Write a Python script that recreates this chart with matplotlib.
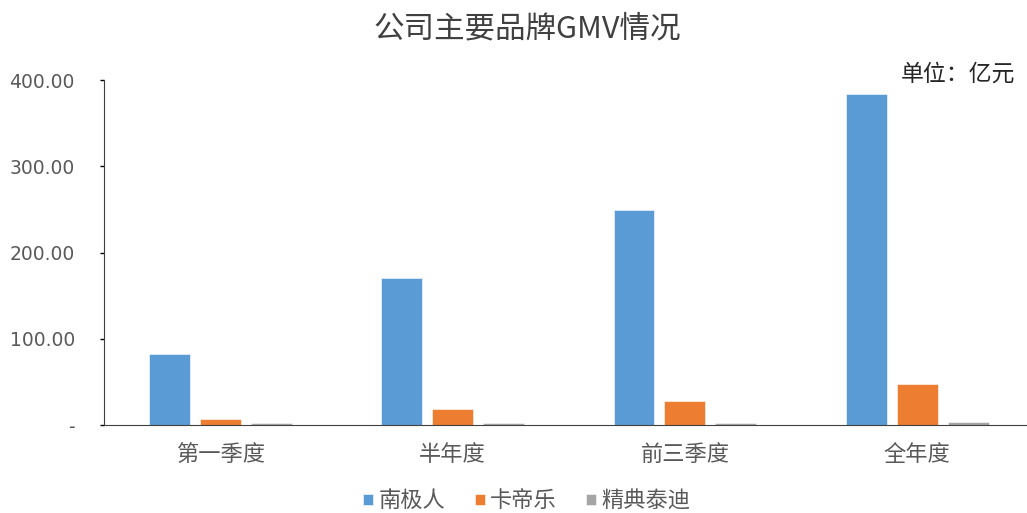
import numpy as np
import matplotlib.pyplot as plt

plt.rcParams['font.family'] = ['Noto Sans CJK SC', 'DejaVu Sans']

categories = ['第一季度', '半年度', '前三季度', '全年度']
series_names = ['南极人', '卡帝乐', '精典泰迪']
nanjiren = [82.6, 170.3, 249.3, 383.8]
kadile = [6.6, 18.3, 28.4, 47.8]
jingdian = [2.3, 2.3, 2.3, 3.5]
colors = ['#5B9BD5', '#ED7D31', '#A5A5A5']
yticks = [0, 100, 200, 300, 400]
ytick_labels = ['-', '100.00', '200.00', '300.00', '400.00']

fig = plt.figure(figsize=(10.27, 5.13), dpi=100)
ax = fig.add_axes([0.1013, 0.1715, 0.905, 0.6725])

x = np.arange(len(categories))
w = 0.176
step = 0.219
for i, (vals, name) in enumerate(zip([nanjiren, kadile, jingdian], series_names)):
    ax.bar(x + (i - 1) * step, vals, w, color=colors[i], label=name,
           edgecolor='white', linewidth=0.4)

ax.set_xlim(-0.5, 3.5)
ax.set_ylim(0, 400)
ax.set_yticks(yticks)
ax.set_yticklabels(ytick_labels, fontsize=13.5, color='#595959', family=['DejaVu Sans'])
ax.set_xticks(x)
ax.set_xticklabels(categories, fontsize=16, color='#595959')
ax.tick_params(axis='y', length=3, width=1, pad=18)
ax.tick_params(axis='x', length=0, pad=13)
for s in ['top', 'right']:
    ax.spines[s].set_visible(False)
ax.spines['left'].set_color('#404040')
ax.spines['bottom'].set_color('#404040')

fig.text(0.513, 0.943, '公司主要品牌GMV情况', ha='center', va='center',
         fontsize=22, color='#404040')
fig.text(0.988, 0.855, '单位：亿元', ha='right', va='center', fontsize=16.5, color='#262626')

ax.legend(loc='center', bbox_to_anchor=((0.513 - 0.1013) / 0.905, -0.22),
          ncol=3, frameon=False, fontsize=16, handlelength=0.45, handleheight=0.45,
          handletextpad=0.25, columnspacing=1.3, labelcolor='#595959')

fig.savefig('out.png', dpi=100)
